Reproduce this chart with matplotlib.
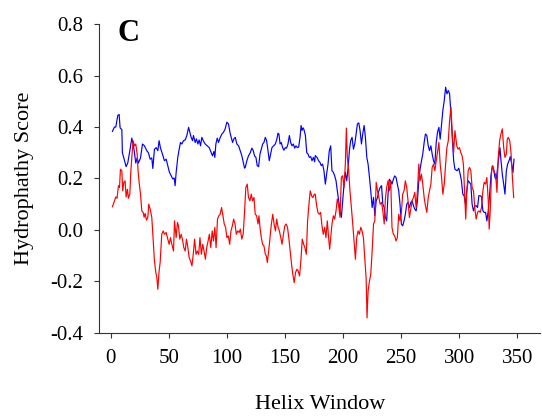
import matplotlib
matplotlib.use("Agg")
import matplotlib.pyplot as plt

plt.rcParams['font.family'] = ['Liberation Serif', 'DejaVu Serif']

# Blue trace (helix window, hydropathy score)
blue_x = [1.4, 3.1, 4.3, 6.0, 7.2, 8.0, 9.5, 10.0, 11.8, 13.2, 14.6, 16.4, 18.1, 19.5, 20.4, 21.5,
          22.7, 23.8, 25.6, 27.3, 29.0, 31.0, 32.4, 33.9, 35.3, 36.2, 37.6, 39.1, 40.5, 41.6, 42.8,
          44.5, 46.2, 47.7, 49.1, 50.5, 52.0, 53.4, 54.6, 55.4, 56.3, 57.7, 58.9, 60.0, 61.2, 62.6,
          64.1, 65.5, 67.0, 68.1, 69.2, 70.4, 71.2, 72.7, 73.8, 75.0, 76.1, 77.3, 78.4, 79.6, 81.3,
          83.1, 84.8, 86.5, 87.6, 88.8, 89.6, 90.5, 91.7, 92.8, 94.3, 95.7, 97.1, 98.5, 100.0, 101.4,
          102.6, 103.7, 104.9, 106.0, 107.2, 108.6, 110.1, 111.5, 112.9, 114.1, 115.2, 115.8, 117.2,
          118.6, 120.1, 121.5, 122.7, 123.8, 125.0, 126.1, 127.3, 128.5, 129.6, 130.8, 131.9, 133.1,
          134.2, 135.4, 136.5, 137.7, 138.8, 140.3, 141.7, 142.9, 144.0, 144.8, 145.8, 146.8, 148.0,
          149.1, 150.3, 151.4, 152.6, 153.8, 154.9, 156.1, 157.2, 158.4, 159.5, 160.7, 161.8, 163.0,
          163.9, 164.7, 165.6, 166.4, 167.6, 168.8, 169.9, 171.0, 172.2, 173.3, 174.5, 175.6, 176.1,
          177.6, 179.0, 180.2, 181.3, 182.4, 183.6, 184.8, 185.9, 187.1, 188.2, 189.4, 190.5, 191.7,
          192.8, 194.0, 195.1, 196.3, 197.4, 198.6, 199.7, 200.9, 202.0, 203.2, 204.3, 205.5, 206.6,
          207.8, 209.0, 210.1, 211.3, 212.4, 213.6, 214.7, 215.9, 217.0, 218.2, 219.3, 220.5, 221.6,
          222.8, 223.9, 225.1, 226.3, 227.4, 228.6, 229.7, 230.9, 232.0, 233.2, 234.3, 235.5, 236.5,
          237.6, 238.8, 239.9, 241.1, 242.2, 243.4, 244.5, 245.7, 246.8, 248.0, 249.1, 250.3, 251.4,
          252.6, 253.7, 254.9, 256.0, 257.2, 258.4, 259.5, 260.7, 261.8, 263.0, 264.1, 265.3, 266.4,
          267.6, 268.7, 269.9, 271.0, 272.2, 273.4, 274.5, 275.7, 276.8, 278.0, 279.1, 280.3, 281.4,
          282.6, 283.7, 284.9, 286.0, 287.2, 288.4, 289.5, 290.7, 291.8, 293.0, 294.1, 295.3, 296.4,
          298.3, 299.7, 300.9, 302.0, 303.2, 304.3, 305.5, 306.6, 307.8, 308.9, 310.1, 311.2, 312.4,
          313.6, 314.7, 315.9, 317.0, 318.2, 319.3, 320.5, 321.6, 322.8, 323.9, 325.1, 326.3, 327.4,
          328.6, 329.7, 330.9, 332.0, 333.2, 334.3, 335.2, 336.1, 337.2, 338.4, 339.5, 340.7, 341.8,
          343.0, 344.1, 345.3, 346.4, 347.3]
blue_y = [0.383, 0.40, 0.40, 0.445, 0.449, 0.397, 0.39, 0.30, 0.269, 0.246, 0.26, 0.308, 0.357, 0.327,
          0.30, 0.26, 0.28, 0.26, 0.28, 0.334, 0.327, 0.308, 0.30, 0.275, 0.28, 0.239, 0.314, 0.32,
          0.308, 0.347, 0.318, 0.295, 0.269, 0.275, 0.25, 0.224, 0.211, 0.198, 0.202, 0.172, 0.224,
          0.282, 0.314, 0.34, 0.334, 0.347, 0.35, 0.367, 0.399, 0.38, 0.36, 0.347, 0.367, 0.34, 0.354,
          0.334, 0.35, 0.327, 0.36, 0.347, 0.334, 0.327, 0.32, 0.30, 0.288, 0.305, 0.282, 0.334, 0.357,
          0.34, 0.36, 0.373, 0.38, 0.393, 0.419, 0.412, 0.38, 0.36, 0.34, 0.354, 0.36, 0.334, 0.327,
          0.308, 0.288, 0.262, 0.24, 0.243, 0.269, 0.288, 0.30, 0.318, 0.308, 0.288, 0.282, 0.25, 0.246,
          0.295, 0.314, 0.334, 0.34, 0.36, 0.347, 0.308, 0.269, 0.295, 0.32, 0.327, 0.334, 0.35, 0.376,
          0.373, 0.334, 0.34, 0.32, 0.31, 0.32, 0.318, 0.334, 0.367, 0.34, 0.327, 0.334, 0.318, 0.327,
          0.32, 0.322, 0.36, 0.406, 0.387, 0.397, 0.39, 0.367, 0.30, 0.295, 0.282, 0.285, 0.269, 0.282,
          0.265, 0.289, 0.282, 0.269, 0.262, 0.25, 0.256, 0.23, 0.178, 0.217, 0.256, 0.308, 0.327, 0.23,
          0.224, 0.211, 0.191, 0.152, 0.113, 0.074, 0.049, 0.113, 0.178, 0.224, 0.191, 0.237, 0.308,
          0.347, 0.36, 0.314, 0.334, 0.373, 0.412, 0.416, 0.386, 0.334, 0.373, 0.406, 0.36, 0.282,
          0.256, 0.204, 0.152, 0.087, 0.126, 0.055, 0.113, 0.126, 0.152, 0.165, 0.172, 0.10, 0.087,
          0.048, 0.035, 0.139, 0.197, 0.19, 0.178, 0.197, 0.21, 0.204, 0.178, 0.152, 0.10, 0.022, 0.016,
          0.035, 0.061, 0.10, 0.107, 0.087, 0.107, 0.113, 0.094, 0.081, 0.074, 0.113, 0.191, 0.236,
          0.269, 0.295, 0.34, 0.373, 0.367, 0.327, 0.308, 0.327, 0.295, 0.269, 0.256, 0.34, 0.38, 0.399,
          0.353, 0.412, 0.464, 0.503, 0.555, 0.529, 0.542, 0.529, 0.451, 0.36, 0.269, 0.236, 0.23, 0.24,
          0.217, 0.191, 0.139, 0.133, 0.10, 0.152, 0.191, 0.185, 0.178, 0.10, 0.074, 0.094, 0.094, 0.087,
          0.133, 0.133, 0.129, 0.074, 0.068, 0.068, 0.035, 0.074, 0.139, 0.21, 0.249, 0.236, 0.204,
          0.197, 0.243, 0.282, 0.32, 0.269, 0.217, 0.178, 0.139, 0.23, 0.256, 0.269, 0.285, 0.256,
          0.223, 0.275]

# Red trace
red_x = [1.4, 3.1, 4.3, 5.4, 6.6, 7.5, 8.3, 9.5, 10.3, 11.2, 12.3, 13.2, 14.3, 15.2, 16.4, 17.2, 18.1,
         19.2, 20.4, 21.5, 22.7, 23.5, 24.4, 25.6, 26.7, 27.9, 28.7, 29.6, 30.7, 31.9, 32.7, 33.9, 35.3,
         36.5, 37.6, 38.8, 39.7, 40.5, 41.6, 42.5, 43.9, 45.1, 46.2, 47.7, 49.1, 50.3, 51.4, 52.6, 54.0,
         54.9, 56.3, 57.4, 58.3, 59.4, 60.6, 61.7, 62.9, 64.1, 65.2, 66.4, 67.5, 68.7, 69.9, 71.0, 72.2,
         73.4, 74.5, 75.7, 76.8, 78.0, 79.2, 80.3, 81.5, 82.6, 83.8, 84.9, 86.1, 87.3, 88.4, 89.6, 90.7,
         91.9, 93.1, 94.2, 95.4, 96.6, 97.7, 98.9, 100.0, 101.2, 102.4, 103.5, 104.7, 105.8, 107.0,
         108.1, 109.3, 110.5, 111.6, 112.8, 114.0, 115.1, 116.3, 117.5, 118.6, 119.8, 121.0, 122.1,
         123.3, 124.4, 125.6, 126.8, 127.6, 128.5, 129.6, 130.8, 131.9, 133.1, 134.0, 134.8, 136.0,
         137.1, 138.3, 139.5, 140.6, 141.8, 142.9, 144.1, 145.2, 146.4, 147.5, 148.7, 149.9, 151.0,
         152.2, 153.3, 154.5, 155.7, 156.8, 158.0, 159.1, 160.3, 161.4, 162.6, 163.7, 164.9, 166.1,
         167.2, 168.4, 169.5, 170.7, 171.8, 173.0, 174.1, 175.3, 176.1, 177.3, 178.4, 179.6, 180.7,
         181.9, 183.0, 184.2, 185.3, 186.5, 187.6, 188.5, 189.4, 190.5, 191.7, 192.8, 194.0, 195.1,
         196.3, 197.4, 198.6, 199.7, 200.9, 202.0, 202.9, 203.7, 204.9, 206.0, 207.2, 208.4, 209.5,
         210.7, 211.8, 213.0, 214.1, 215.3, 216.4, 217.6, 218.7, 219.9, 220.7, 221.6, 222.8, 223.9,
         225.1, 226.3, 227.4, 228.6, 229.7, 230.9, 232.0, 233.2, 234.3, 235.5, 236.5, 237.6, 238.8,
         239.9, 241.1, 242.2, 243.4, 244.5, 245.7, 246.8, 248.0, 249.1, 250.3, 251.4, 252.6, 253.7,
         254.9, 256.0, 257.2, 258.4, 259.5, 260.7, 261.8, 263.0, 264.1, 265.3, 266.4, 267.6, 268.7,
         269.9, 271.0, 272.2, 273.4, 274.5, 275.7, 276.8, 278.0, 279.1, 280.3, 281.4, 282.6, 283.7,
         284.9, 286.0, 287.2, 288.4, 289.5, 290.7, 291.8, 293.0, 294.1, 295.3, 296.4, 298.0, 299.1,
         300.3, 301.4, 302.6, 303.7, 304.9, 305.7, 306.6, 307.8, 308.9, 310.1, 311.2, 312.4, 313.6,
         314.7, 315.9, 317.0, 318.2, 319.3, 320.5, 321.6, 322.8, 323.9, 325.1, 325.9, 326.8, 328.0,
         329.1, 330.3, 331.4, 332.6, 333.7, 334.9, 336.0, 337.2, 338.4, 339.5, 340.7, 341.5, 342.4,
         343.6, 344.7, 345.9, 347.0]
red_y = [0.09, 0.112, 0.128, 0.123, 0.172, 0.165, 0.236, 0.23, 0.152, 0.185, 0.191, 0.128, 0.158,
         0.123, 0.139, 0.223, 0.282, 0.347, 0.327, 0.334, 0.295, 0.23, 0.185, 0.139, 0.074, 0.068,
         0.049, 0.064, 0.038, 0.049, 0.10, 0.081, 0.049, -0.043, -0.121, -0.166, -0.186, -0.231, -0.16,
         -0.127, -0.017, -0.004, -0.017, -0.01, -0.036, -0.056, -0.030, -0.056, -0.082, 0.035, -0.030,
         0.029, 0.016, -0.036, -0.017, -0.036, -0.069, -0.082, -0.036, -0.069, -0.108, -0.121, -0.140,
         -0.095, -0.036, -0.095, -0.082, -0.095, -0.030, -0.095, -0.056, -0.082, -0.114, -0.069, -0.043,
         -0.017, -0.069, -0.004, -0.043, 0.01, -0.069, 0.042, 0.055, 0.061, 0.087, 0.055, 0.023, 0.01,
         -0.030, -0.023, -0.056, -0.004, 0.016, 0.042, 0.023, -0.017, -0.004, -0.010, 0.003, -0.036,
         -0.017, 0.061, 0.165, 0.178, 0.126, 0.113, 0.139, 0.113, 0.126, 0.061, 0.055, 0.023, 0.055,
         0.010, -0.030, -0.056, -0.062, -0.095, -0.101, -0.127, -0.082, -0.030, 0.023, 0.061, 0.023,
         -0.004, 0.042, 0.010, -0.004, -0.030, -0.056, -0.017, 0.016, 0.023, 0.010, -0.030, -0.082,
         -0.134, -0.173, -0.205, -0.166, -0.153, -0.160, -0.179, -0.121, -0.036, -0.056, -0.069, -0.095,
         0.035, 0.101, 0.152, 0.132, 0.126, 0.139, 0.139, 0.094, 0.068, 0.061, 0.068, 0.016, -0.017,
         0.010, -0.030, 0.035, -0.030, -0.075, -0.030, 0.023, 0.055, 0.042, 0.074, 0.120, 0.094, 0.049,
         0.204, 0.211, 0.165, 0.256, 0.396, 0.282, 0.230, 0.152, 0.087, 0.023, -0.043, -0.114, -0.030,
         -0.004, -0.017, 0.010, -0.004, -0.030, -0.108, -0.186, -0.342, -0.238, -0.199, -0.173, -0.082,
         0.023, 0.035, 0.185, 0.152, 0.126, 0.10, 0.107, 0.074, 0.023, 0.12, 0.165, 0.191, 0.152, 0.191,
         0.009, -0.017, -0.023, -0.043, -0.030, 0.061, 0.035, 0.068, 0.139, 0.152, 0.191, 0.165, 0.113,
         0.048, 0.081, 0.113, 0.126, 0.146, 0.087, 0.152, 0.256, 0.191, 0.217, 0.178, 0.126, 0.094,
         0.068, 0.126, 0.152, 0.178, 0.243, 0.256, 0.23, 0.269, 0.301, 0.34, 0.256, 0.204, 0.139, 0.178,
         0.256, 0.321, 0.347, 0.425, 0.477, 0.373, 0.301, 0.386, 0.327, 0.314, 0.32, 0.301, 0.288,
         0.256, 0.133, 0.042, 0.139, 0.23, 0.243, 0.23, 0.165, 0.152, 0.081, 0.042, 0.068, 0.074, 0.068,
         0.087, 0.152, 0.185, 0.178, 0.204, 0.113, 0.003, 0.074, 0.23, 0.249, 0.223, 0.217, 0.146,
         0.282, 0.347, 0.373, 0.393, 0.32, 0.282, 0.295, 0.353, 0.36, 0.347, 0.301, 0.204, 0.126]

x_ticks = [0, 50, 100, 150, 200, 250, 300, 350]
y_ticks = [-0.4, -0.2, 0.0, 0.2, 0.4, 0.6, 0.8]

fig = plt.figure(figsize=(5.42, 4.17), dpi=100)
ax = fig.add_axes([0.183, 0.202, 0.814, 0.740])

ax.plot(blue_x, blue_y, color='#0000ff', lw=0.85)
ax.plot(red_x, red_y, color='#ff0000', lw=0.85)

ax.set_xlim(-10, 370)
ax.set_ylim(-0.4, 0.8)
ax.set_xticks(x_ticks)
ax.set_yticks(y_ticks)
ax.set_yticklabels([f"{v:.1f}" for v in y_ticks])

for side in ['top', 'right']:
    ax.spines[side].set_visible(False)
for side in ['left', 'bottom']:
    ax.spines[side].set_linewidth(0.8)
    ax.spines[side].set_color('#333333')

ax.tick_params(direction='out', length=3.5, width=0.8, color='#333333',
               labelsize=15, pad=8)

ax.set_xlabel('Helix Window', fontsize=16, va='center')
ax.xaxis.set_label_coords(0.5, -0.234)
ax.set_ylabel('Hydrophathy Score', fontsize=16, va='center')
ax.yaxis.set_label_coords(-0.17, 0.5)

ax.text(0.042, 1.018, 'C', transform=ax.transAxes, fontsize=22, fontweight='bold',
        va='top', ha='left')

fig.savefig('out.png', dpi=100)
